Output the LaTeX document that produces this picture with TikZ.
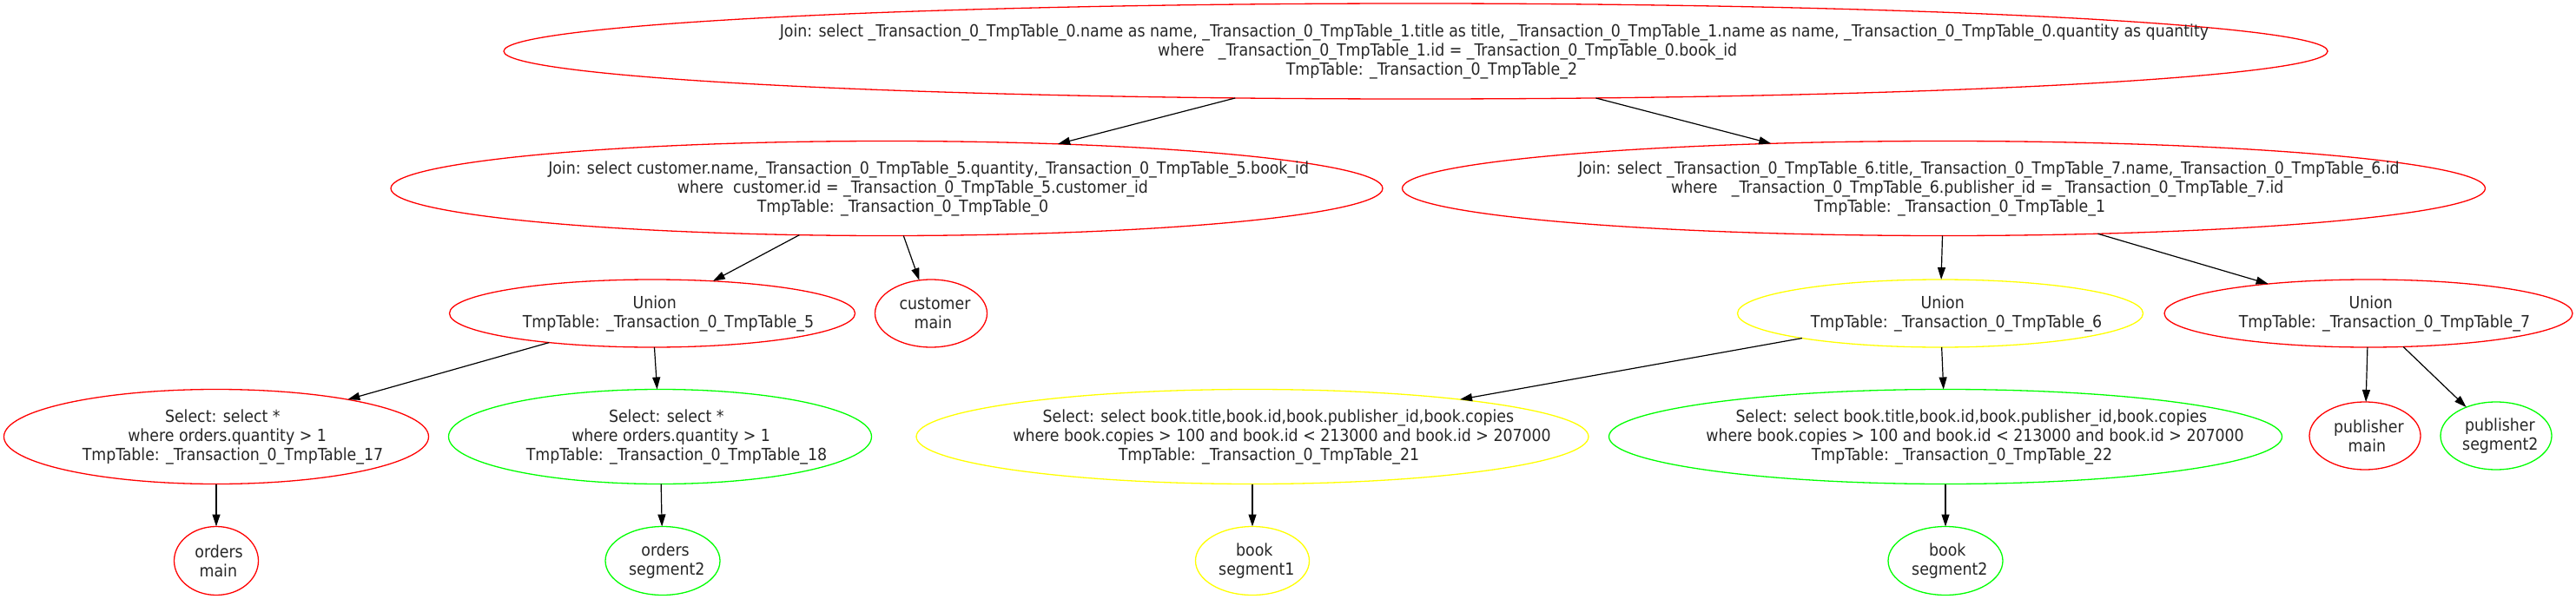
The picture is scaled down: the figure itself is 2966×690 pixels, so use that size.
\documentclass[tikz,border=0pt]{standalone}
\usepackage{fontspec}
\setmainfont{DejaVu Sans Condensed}
\usetikzlibrary{shapes.geometric,arrows.meta}
\definecolor{gvred}{RGB}{255,0,0}
\definecolor{gvgreen}{RGB}{0,255,0}
\definecolor{gvyellow}{RGB}{255,255,0}
\newsavebox\glbox
\newcommand\gl[1]{\sbox\glbox{#1}\makebox[0.89\wd\glbox][l]{\usebox\glbox}}
\begin{document}
\begin{tikzpicture}[x=1pt,y=-1pt,
  gv/.style={ellipse,draw,line width=1.3pt,inner xsep=-400pt,inner ysep=-100pt,outer sep=0pt,align=center,
    font=\fontsize{19.3}{22}\selectfont,text=black!85},
  redn/.style={gv,draw=gvred},
  greenn/.style={gv,draw=gvgreen},
  yellown/.style={gv,draw=gvyellow},
  edge/.style={draw=black,line width=1.2pt,-{Triangle[length=14pt,width=9pt]}}]
\useasboundingbox (0,0) rectangle (2966,690);

\node[redn,minimum width=2100pt,minimum height=110pt] (top) at (1630,59)
 {\gl{Join: select \_Transaction\_0\_TmpTable\_0.name as name, \_Transaction\_0\_TmpTable\_1.title as title, \_Transaction\_0\_TmpTable\_1.name as name, \_Transaction\_0\_TmpTable\_0.quantity as quantity}\\
 \gl{where \ \ \_Transaction\_0\_TmpTable\_1.id = \_Transaction\_0\_TmpTable\_0.book\_id}\\
 \gl{TmpTable: \_Transaction\_0\_TmpTable\_2}};

\node[redn,minimum width=1142pt,minimum height=109pt] (j0) at (1021,217)
 {\gl{Join: select customer.name,\_Transaction\_0\_TmpTable\_5.quantity,\_Transaction\_0\_TmpTable\_5.book\_id}\\
 \gl{where \ customer.id = \_Transaction\_0\_TmpTable\_5.customer\_id}\\
 \gl{TmpTable: \_Transaction\_0\_TmpTable\_0}};

\node[redn,minimum width=1247pt,minimum height=109pt] (j1) at (2238,217)
 {\gl{Join: select \_Transaction\_0\_TmpTable\_6.title,\_Transaction\_0\_TmpTable\_7.name,\_Transaction\_0\_TmpTable\_6.id}\\
 \gl{where \ \ \_Transaction\_0\_TmpTable\_6.publisher\_id = \_Transaction\_0\_TmpTable\_7.id}\\
 \gl{TmpTable: \_Transaction\_0\_TmpTable\_1}};

\node[redn,minimum width=467pt,minimum height=78pt] (u5) at (751,361)
 {\gl{Union}\\\gl{TmpTable: \_Transaction\_0\_TmpTable\_5}};
\node[redn,minimum width=129pt,minimum height=78pt] (cust) at (1072,361)
 {\gl{customer}\\\gl{main}};
\node[yellown,minimum width=467pt,minimum height=78pt] (u6) at (2234,361)
 {\gl{Union}\\\gl{TmpTable: \_Transaction\_0\_TmpTable\_6}};
\node[redn,minimum width=470pt,minimum height=78pt] (u7) at (2727,361)
 {\gl{Union}\\\gl{TmpTable: \_Transaction\_0\_TmpTable\_7}};

\node[redn,minimum width=489pt,minimum height=109pt] (s17) at (249,503)
 {\gl{Select: select *}\\\gl{where orders.quantity > 1}\\\gl{TmpTable: \_Transaction\_0\_TmpTable\_17}};
\node[greenn,minimum width=487pt,minimum height=109pt] (s18) at (760,503)
 {\gl{Select: select *}\\\gl{where orders.quantity > 1}\\\gl{TmpTable: \_Transaction\_0\_TmpTable\_18}};
\node[yellown,minimum width=774pt,minimum height=109pt] (s21) at (1442,503)
 {\gl{Select: select book.title,book.id,book.publisher\_id,book.copies}\\\gl{where book.copies > 100 and book.id < 213000 and book.id > 207000}\\\gl{TmpTable: \_Transaction\_0\_TmpTable\_21}};
\node[greenn,minimum width=775pt,minimum height=109pt] (s22) at (2240,503)
 {\gl{Select: select book.title,book.id,book.publisher\_id,book.copies}\\\gl{where book.copies > 100 and book.id < 213000 and book.id > 207000}\\\gl{TmpTable: \_Transaction\_0\_TmpTable\_22}};
\node[redn,minimum width=128pt,minimum height=78pt] (pm) at (2723,502)
 {\gl{publisher}\\\gl{main}};
\node[greenn,minimum width=128pt,minimum height=78pt] (ps2) at (2874,502)
 {\gl{publisher}\\\gl{segment2}};

\node[redn,minimum width=97pt,minimum height=79pt] (om) at (249,646)
 {\gl{orders}\\\gl{main}};
\node[greenn,minimum width=132pt,minimum height=79pt] (os2) at (763,646)
 {\gl{orders}\\\gl{segment2}};
\node[yellown,minimum width=131pt,minimum height=79pt] (bs1) at (1442,646)
 {\gl{book}\\\gl{segment1}};
\node[greenn,minimum width=132pt,minimum height=79pt] (bs2) at (2240,646)
 {\gl{book}\\\gl{segment2}};

\draw[edge] (top) -- (j0);
\draw[edge] (top) -- (j1);
\draw[edge] (j0) -- (u5);
\draw[edge] (j0) -- (cust);
\draw[edge] (j1) -- (u6);
\draw[edge] (j1) -- (u7);
\draw[edge] (u5) -- (s17);
\draw[edge] (u5) -- (s18);
\draw[edge] (u6) -- (s21);
\draw[edge] (u6) -- (s22);
\draw[edge] (u7) -- (pm);
\draw[edge] (u7) -- (ps2);
\draw[edge] (s17) -- (om);
\draw[edge] (s18) -- (os2);
\draw[edge] (s21) -- (bs1);
\draw[edge] (s22) -- (bs2);
\end{tikzpicture}
\end{document}
